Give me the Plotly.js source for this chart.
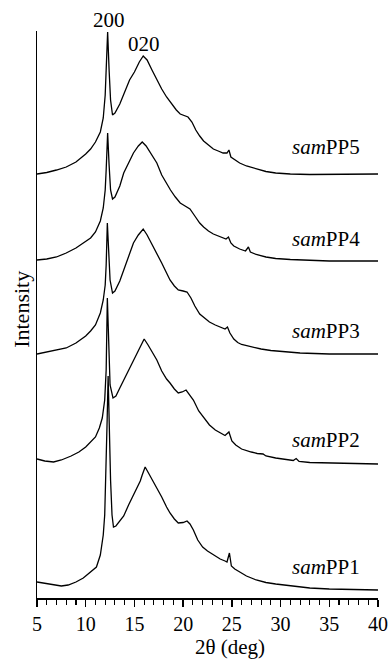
<!DOCTYPE html>
<html>
<head>
<meta charset="utf-8">
<script src="https://cdn.plot.ly/plotly-3.0.1.min.js"></script>
<style>html,body{margin:0;padding:0;background:#fff;}#chart{width:390px;height:660px;}</style>
</head>
<body>
<div id="chart"></div>
<script>
// 2θ (deg) and intensity (a.u.) for each sample
const pp1_x = [5,6,7,7.5,8.2,9.0,9.75,10.4,11.1,11.5,11.8,11.95,12.1,12.2,12.3,12.4,12.55,12.7,12.85,13.1,13.5,13.9,14.4,14.9,15.3,15.6,15.8,16.1,16.5,16.9,17.3,17.8,18.3,18.65,19.1,19.5,20.0,20.4,20.7,21.05,21.5,22.0,22.5,23.1,23.8,24.3,24.5,24.75,24.95,25.3,25.8,26.5,27.5,28.5,29.5,31,33,35,37,40];
const pp1_y = [16,14.5,12.5,12,13,16,20,25,31,43,63,83,128,178,222,178,118,83,71,72,77,82,93,103,112,117,123,131,124,117,111,101,91,85,79,75,75.5,77,74,68,58,51,47,43,39,37,36,45,32,29,26,22,18,15.5,14,12,10,9,8.5,8];

const pp2_x = [5,5.8,6.7,7.5,8.5,9.3,10.0,10.5,11.0,11.4,11.7,11.95,12.1,12.22,12.35,12.5,12.8,13.1,13.5,13.9,14.4,14.9,15.4,15.7,16.0,16.4,16.9,17.3,17.8,18.3,18.65,19.1,19.5,19.9,20.3,20.6,21.05,21.6,22.1,22.7,23.3,23.8,24.3,24.7,25.0,25.4,26.0,27.0,27.6,28.2,28.5,29.5,30.5,31.3,31.6,31.9,33,35,37,40];
const pp2_y = [19,17,16,18,22,26,31,36,41,50,60,78,108,180,128,93,80,82,90,98,108,118,128,133,139,133,125,118,107,99,95,89,85,86,88,84,78,67,61,53,48,45,42.5,46,37,33,29,26,24.5,24,22,20,18.5,17.5,19.5,16.5,15.5,15,14.5,14];

const pp3_x = [5,6,7,8,9,10,10.5,11,11.5,11.8,12.0,12.1,12.22,12.35,12.5,12.75,13.0,13.5,13.9,14.4,14.9,15.4,15.9,16.3,16.8,17.3,17.8,18.3,18.65,19.1,19.5,20.0,20.4,20.8,21.2,21.7,22.1,22.7,23.3,23.8,24.3,24.55,24.8,25.2,25.6,26.0,27.0,28,29,30,32,35,40];
const pp3_y = [14,16,17.5,20,25,32,37,43,55,68,83,103,145,113,88,75,77,87,98,112,125,133,139,133,124,115,105,95,88,82,78,77,76,70,62,54,51,46,43,41,39,41,35,29,25.5,23.5,21,19,17.5,16.5,15,14,14];

const pp4_x = [5,6,7,8,9,10,10.5,11,11.5,11.8,12.0,12.1,12.25,12.4,12.55,12.75,13.0,13.5,13.9,14.5,14.9,15.4,15.8,16.2,16.8,17.3,17.8,18.3,18.7,19.2,19.7,20.2,20.7,21.2,21.7,22.1,22.6,23.1,23.8,24.4,24.65,24.9,25.2,25.8,26.4,26.7,26.9,27.5,28.5,29.5,31,33,35,37,40];
const pp4_y = [18,19,21,25,30,37,40,46,57,70,88,108,145,113,88,79,81,92,105,117,125,132,136,132,123,115,103,94,88,81,75,72,69,62,55,51,47,44,41,39,41,35,32,29,27,31,26,23.5,21,19.5,18.5,17.5,17,17,17];

const pp5_x = [5,6,7,8,9,10,10.5,11,11.5,11.8,12.0,12.1,12.25,12.4,12.55,12.75,13.0,13.5,14,14.5,15,15.5,15.9,16.3,16.8,17.3,17.8,18.3,18.8,19.3,19.7,20.2,20.5,20.9,21.3,21.7,22.1,22.6,23.1,23.6,24.1,24.5,24.7,24.9,25.3,25.8,26.5,27.5,28.5,29.5,31,33,35,37,40];
const pp5_y = [14,15.5,18,21,26,34,39,46,56,70,93,118,156,118,88,73,75,84,96,108,116,126,132,128,118,108,99,91,84,78,74,72,71,66,58,52,47,43,39,37,35,35,38,31,28,25,22,19,16.5,15,14,13.5,13.5,14,14];

const sampleNames = ['PP1','PP2','PP3','PP4','PP5'];
const stackOffsets = [0,120,230,320,410];
const xTicks = [5,10,15,20,25,30,35,40];
const peakLabels = ['200','020'];
const peakPos = [12.39, 15.98];

const xs = [pp1_x,pp2_x,pp3_x,pp4_x,pp5_x];
const ys = [pp1_y,pp2_y,pp3_y,pp4_y,pp5_y];

const serif = 'Liberation Serif';

const traces = xs.map((x,i)=>({
  x: x,
  y: ys[i].map(v=>v+stackOffsets[i]),
  type:'scatter', mode:'lines',
  line:{color:'#000', width:1.3},
  hoverinfo:'skip', name:'sam'+sampleNames[i]
}));

const labelY = [31,158,267,359,451];
const annotations = sampleNames.map((n,i)=>({
  x:30.97, y:labelY[i], xref:'x', yref:'y',
  text:'<i>sam</i>'+n, showarrow:false, xanchor:'left', yanchor:'middle',
  font:{family:serif, size:21, color:'#000'}
}));
annotations.push({x:peakPos[0], y:1.019, xref:'x', yref:'paper', text:peakLabels[0], showarrow:false,
  xanchor:'center', yanchor:'middle', font:{family:serif, size:21, color:'#000'}});
annotations.push({x:peakPos[1], y:0.977, xref:'x', yref:'paper', text:peakLabels[1], showarrow:false,
  xanchor:'center', yanchor:'middle', font:{family:serif, size:21, color:'#000'}});
annotations.push({x:0.566, y:-0.087, xref:'paper', yref:'paper', text:'2θ (deg)', showarrow:false,
  xanchor:'center', yanchor:'middle', font:{family:serif, size:21, color:'#000'}});
annotations.push({x:-0.044, y:0.51, xref:'paper', yref:'paper', text:'Intensity', showarrow:false,
  textangle:-90, xanchor:'center', yanchor:'middle', font:{family:serif, size:22, color:'#000'}});

const layout = {
  width:390, height:660,
  margin:{l:37, r:12, t:31, b:62},
  paper_bgcolor:'#fff', plot_bgcolor:'#fff',
  showlegend:false,
  font:{family:serif, color:'#000'},
  xaxis:{
    range:[5,40], tickvals:xTicks, ticktext:xTicks.map(String),
    ticks:'outside', ticklen:7, tickwidth:1.3, tickcolor:'#000',
    minor:{dtick:1, tick0:5, ticks:'outside', ticklen:5, tickwidth:1.1, tickcolor:'#000'},
    showline:true, linewidth:1.5, linecolor:'#000',
    showgrid:false, zeroline:false,
    tickfont:{family:serif, size:20, color:'#000'}
  },
  yaxis:{
    range:[0,567], showline:true, linewidth:1.5, linecolor:'#000',
    showticklabels:false, ticks:'', showgrid:false, zeroline:false
  },
  annotations:annotations
};

Plotly.newPlot('chart', traces, layout, {staticPlot:true, displayModeBar:false});
</script>
</body>
</html>
